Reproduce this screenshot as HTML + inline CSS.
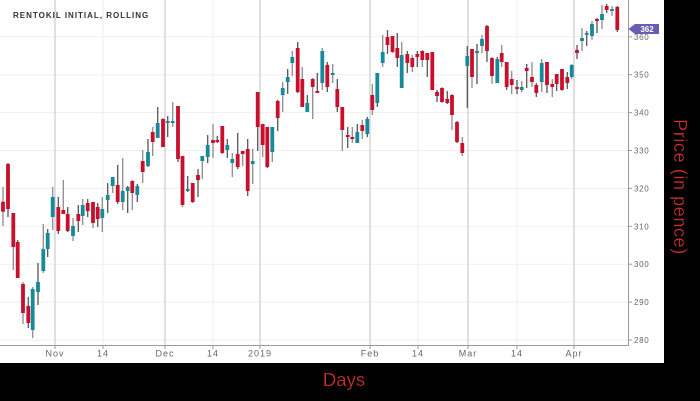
<!DOCTYPE html>
<html><head><meta charset="utf-8"><style>
html,body{margin:0;padding:0;background:#000;}
body{width:700px;height:401px;overflow:hidden;position:relative;}
svg{position:absolute;left:0;top:0;}
</style></head><body>
<svg width="700" height="401" viewBox="0 0 700 401" xmlns="http://www.w3.org/2000/svg">
<rect x="0" y="0" width="700" height="401" fill="#000"/>
<rect x="0" y="0" width="664" height="363" fill="#fff"/>
<g id="grid"></g>
<g id="candles"></g>
<line x1="0" y1="345.5" x2="628" y2="345.5" stroke="#9a9a9a" stroke-width="1"/>
<line x1="628.5" y1="0" x2="628.5" y2="346" stroke="#9a9a9a" stroke-width="1"/>
<g id="axes" font-family="Liberation Sans, sans-serif" fill="#666"></g>
<text x="13" y="18" font-family="Liberation Sans, sans-serif" font-size="8" font-weight="bold" letter-spacing="1" fill="#333">RENTOKIL INITIAL, ROLLING</text>
<path d="M628.5,29 L635,24 L659,24 L659,34 L635,34 Z" fill="#6a5cb3"/>
<text x="647" y="32" font-family="Liberation Sans, sans-serif" font-size="8" font-weight="bold" fill="#fff" text-anchor="middle">362</text>
<text x="344" y="386" font-family="Liberation Sans, sans-serif" font-size="18.5" fill="#d0312d" stroke="#000" stroke-width="0.25" text-anchor="middle">Days</text>
<text transform="translate(674,187) rotate(90)" font-family="Liberation Sans, sans-serif" font-size="18" letter-spacing="0.6" fill="#d0312d" stroke="#000" stroke-width="0.25" text-anchor="middle">Price (in pence)</text>
</svg>
<script>
(function(){
var NS="http://www.w3.org/2000/svg";
function el(n,a,p){var e=document.createElementNS(NS,n);for(var k in a)e.setAttribute(k,a[k]);p.appendChild(e);return e;}
var grid=document.getElementById('grid'),cg=document.getElementById('candles'),ax=document.getElementById('axes');
function Y(p){return 340-(p-280)*3.79;}
for(var p=280;p<=360;p+=10){var y=Y(p);
 el('line',{x1:0,y1:y,x2:628,y2:y,stroke:'#efefef','stroke-width':1},grid);
 el('line',{x1:628,y1:y,x2:632,y2:y,stroke:'#999','stroke-width':1},ax);
 var t=el('text',{x:634,y:y+3,'font-size':8,'letter-spacing':0.7},ax);t.textContent=p;}
var months=[[55,'Nov',1],[103,'14',0],[165,'Dec',1],[213,'14',0],[260,'2019',1],[370,'Feb',1],[418,'14',0],[468,'Mar',1],[517,'14',0],[574,'Apr',1]];
months.forEach(function(m){
 el('line',{x1:m[0],y1:0,x2:m[0],y2:345,stroke:m[2]?'#cfcfcf':'#ececec','stroke-width':m[2]?1.3:1},grid);
 el('line',{x1:m[0],y1:345,x2:m[0],y2:349,stroke:'#999','stroke-width':1},ax);
 var t=el('text',{x:m[0],y:356.5,'font-size':9,'letter-spacing':1,'text-anchor':'middle'},ax);t.textContent=m[1];});
var R='#c8102e',T='#16899a';
var d=[
[3,187,226,201.7,211.7,R],[8,163,217,164,209,R],[13.3,213,270,213,247,R],[17.7,240,278,242,278,R],[23,282,324,284,313,R],[28.3,297,328,306,323,R],[32.7,287,338,289,330,T],[38,263,305,282,292,T],[43.3,224,273,249,271,T],[47.7,229,257,233,249,T],
[52.7,187,230,197,217,T],[58.3,197,234,207,231,R],[63.3,180,214,210,214,R],[67.7,207,232,214,231,R],[73,218,241,226,236,T],[78.3,205,232,214,221,R],[82.7,199,225,205,216,T],[87.7,199,217,203,211,R],[93,202,228,202,223,R],[97.7,203,227,207,219,R],
[102.3,197,232,209,218,T],[107.7,183,213,195,200,T],[112.7,177,193,177,186,T],[117.7,165,204,185,202,R],[122.7,158,210,191,202,T],[127.7,186,213,187,191,T],[132.3,180,210,181,193,R],[137.3,184,202,186,195,T],[142.7,150,183,161,172,R],[148,139,167,152,166,T],
[152.7,127,156,132,142,R],[157.7,107,138,123,138,T],[163,118,147,119,147,R],[167.7,116,137,121,123,T],[172.7,102,127,121,123,T],[178,106,162,106,159,R],[182.5,156,207,156,205,R],[187.7,176,192,189,191,T],[192.7,183,203,183,202,R],[198,169,197,175,180,R],
[202.3,156,179,156,161,T],[207.7,135,163,145,157,T],[213,124,158,140,143,R],[217.3,136,143,140,142,R],[222.3,126,154,126,153,R],[227.3,139,158,145,150,T],[232.3,153,177,159,163,T],[237.7,133,169,154,167,R],[242.7,151,166,151,154,R],[247.7,139,196,149,191,R],
[252.7,149,184,161,164,T],[257.7,92,151,92,127,R],[262.7,124,157,124,145,R],[267.3,127,168,127,167,R],[272.3,127,162,127,152,T],[277.7,100,131,101,118,R],[282.7,82,112,88,95,T],[287.7,69,94,77,82,T],[292.3,51,76,57,63,T],[297.7,42,93,48,92,R],
[302.3,67,107,79,107,R],[307.3,95,112,103,112,T],[312.7,78,119,79,87,R],[317.3,73,93,91,93,R],[322.3,48,90,51,83,T],[327.3,62,92,65,87,R],[332.7,64,83,73,75,T],[337.3,79,112,89,107,R],[342.3,107,151,107,130,R],[347.7,127,148,135,137,R],
[352.3,127,143,137,139,R],[357.3,124,143,132,143,T],[362.3,120,139,125,131,R],[367.3,117,137,119,134,T],[372.3,84,115,95,110,R],[377.3,73,107,73,103,T],[382.7,35,67,52,63,T],[387.5,30,54,37,45,R],[392.5,36,53,36,52,R],[397.3,33,67,48,58,R],
[401.7,42,88,55,88,T],[407.3,51,73,54,63,R],[412.3,55,72,58,67,R],[417.3,51,67,54,57,R],[422.3,50,67,51,60,R],[427.3,53,77,53,60,R],[432.3,52,90,52,90,R],[437,90,102,92,96,R],[442,87,103,88,102,R],[447.3,91,104,99,103,R],
[452,94,130,95,115,R],[457,121,143,122,142,R],[462.3,137,156,143,153,R],[467.3,46,108,56,66,T],[472,49,88,49,77,R],[477,44,84,51,53,T],[482,35,53,39,46,T],[487,25,62,26,51,R],[492,57,84,58,76,R],[497.3,57,83,59,83,T],
[501.7,45,67,53,62,R],[506.7,62,90,62,87,R],[511.7,71,94,79,85,R],[517,80,94,87,89,R],[521.7,81,92,87,90,T],[526.7,64,88,68,71,R],[532,62,87,77,82,R],[536.3,83,97,85,93,R],[541.7,59,92,63,82,T],[547,62,93,62,85,R],
[552.3,79,97,84,87,R],[556.7,74,91,74,84,R],[562,69,91,69,90,R],[567.3,72,89,77,83,R],[571.7,64,79,65,77,T],[577,45,59,50,53,R],[582,28,51,38,41,T],[586.7,31,46,33,34,T],[592,21,40,24,36,T],[597,18,33,19,21,R],
[602,5,29,14,20,T],[606.7,4,13,6,10,R],[612,6,16,9,11,T],[617.3,6,32,7,30,R]
];
d.forEach(function(c,i){
 var wc=(i%2==0)?'#8c8c8c':'#555';
 el('line',{x1:c[0],y1:c[1],x2:c[0],y2:c[2],stroke:wc,'stroke-width':1.3},cg);
 var h=Math.max(c[4]-c[3],1.8);
 el('rect',{x:c[0]-1.9,y:c[3],width:3.8,height:h,fill:c[5]},cg);
});
})();
</script>
</body></html>
